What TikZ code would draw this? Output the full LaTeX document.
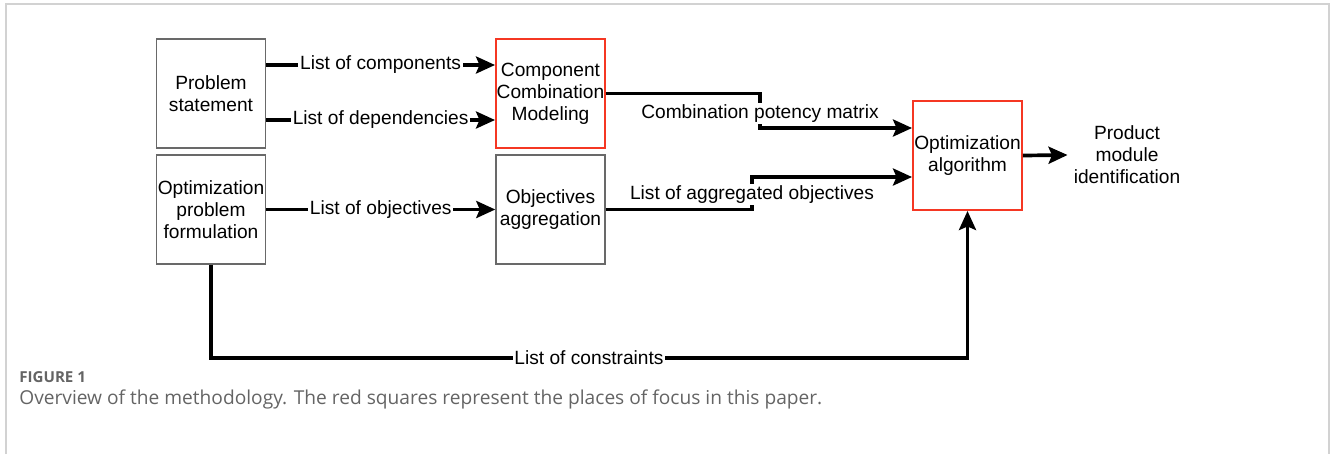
\documentclass[tikz,border=0pt]{standalone}
\usepackage{fontspec}
\setmainfont{Liberation Sans}
\newfontfamily\capfont{Open Sans}
\usetikzlibrary{arrows.meta}
\definecolor{focusred}{RGB}{245,55,35}
\definecolor{boxgray}{RGB}{105,105,105}
\definecolor{framegray}{RGB}{210,210,210}
\definecolor{captiongray}{RGB}{100,100,100}

\begin{document}
\begin{tikzpicture}[
    font=\fontsize{10.9}{12.6}\selectfont,
    block/.style={draw=boxgray, line width=0.8pt, minimum width=2.18cm, minimum height=2.18cm, inner sep=0pt, align=center},
    focusblock/.style={block, draw=focusred, line width=1.1pt},
    flow/.style={line width=2.1pt, -{Stealth[length=3.8mm, width=3.4mm, inset=0.7mm]}},
    flowlabel/.style={fill=white, inner sep=1pt}
]
    % Define parameters
    \def\upper{-1.87}     % row of the first boxes
    \def\lower{-4.19}     % row of the second boxes
    \def\bottomLine{-7.16}% level of the constraints line

    \useasboundingbox (0,0) rectangle (26.6,-9.08);
    %% frame
    \draw[framegray, line width=0.6pt] (0.12,-9.08) -- (0.12,-0.08) -- (26.58,-0.08) -- (26.58,-9.08);

    %% boxes
    \node[block] (ps) at (4.22,\upper) {Problem\\statement};
    \node[block] (opf) at (4.22,\lower) {Optimization\\problem\\formulation};
    \node[focusblock] (ccm) at (11.01,\upper) {Component\\Combination\\Modeling};
    \node[block] (oa) at (11.01,\lower) {Objectives\\aggregation};
    \node[focusblock] (alg) at (19.35,-3.11) {Optimization\\algorithm};
    \node[align=center] (prod) at (22.54,-3.10) {Product\\module\\identification};

    %% straight arrows
    \draw[flow] ([yshift=0.57cm]ps.east) -- node[flowlabel] {List of components} ([yshift=0.57cm]ccm.west);
    \draw[flow] ([yshift=-0.53cm]ps.east) -- node[flowlabel] {List of dependencies} ([yshift=-0.53cm]ccm.west);
    \draw[flow] (opf.east) -- node[flowlabel] {List of objectives} (oa.west);
    \draw[flow] (alg.east) -- (prod.west);

    %% elbow arrows
    \coordinate (cpm) at (15.2,-2.27);
    \draw[flow] (ccm.east) -| (cpm) |- ([yshift=0.55cm]alg.west);
    \node[flowlabel] (cpmlabel) at (cpm) {Combination potency matrix};

    \coordinate (lao) at (15.04,-3.89);
    \draw[flow] (oa.east) -| (lao) |- ([yshift=-0.43cm]alg.west);
    \node[flowlabel] (laolabel) at (lao) {List of aggregated objectives};

    \coordinate (lcon) at (11.78,\bottomLine);
    \draw[flow] (opf.south) |- (lcon) -| (alg.south);
    \node[flowlabel] (lconlabel) at (lcon) {List of constraints};

    %% caption
    \node[anchor=west, text=captiongray, font=\capfont\bfseries\fontsize{8.6}{10}\selectfont, inner sep=0pt] (figno) at (0.38,-7.55) {FIGURE 1};
    \node[anchor=west, text=captiongray, font=\capfont\fontsize{10.9}{12}\selectfont, inner sep=0pt] (figcap) at (0.38,-7.99) {Overview of the methodology. The red squares represent the places of focus in this paper.};
\end{tikzpicture}
\end{document}
